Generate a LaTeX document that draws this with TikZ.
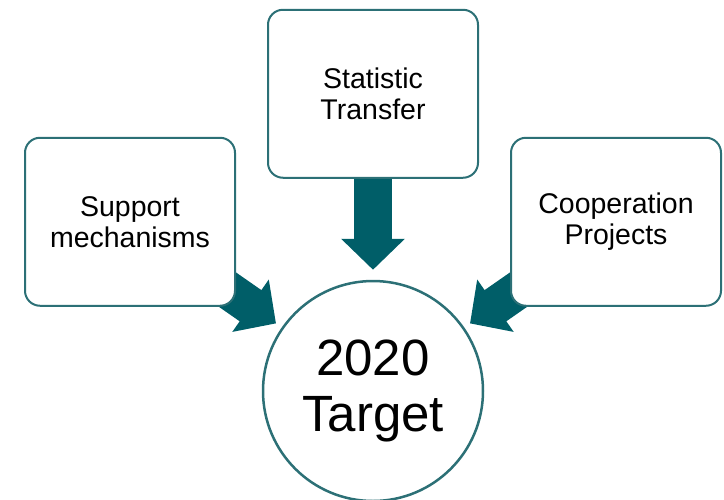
\documentclass[tikz,border=0pt]{standalone}
\usepackage{fontspec}
\setmainfont{Liberation Sans}
\usetikzlibrary{arrows.meta,positioning,backgrounds}

\definecolor{tealdark}{RGB}{0,94,104}
\definecolor{tealline}{RGB}{44,112,118}

\begin{document}
\begin{tikzpicture}[
    box/.style={
        draw=tealline,
        fill=white,
        rounded corners=15pt,
        minimum width=210pt,
        minimum height=168pt,
        align=center,
        line width=2pt,
        font=\fontsize{28.5}{31}\selectfont
    },
    goal/.style={
        circle,
        draw=tealline,
        fill=white,
        minimum size=220pt,
        align=center,
        line width=2.5pt,
        font=\fontsize{51}{56}\selectfont
    },
    blockarrow/.style={
        -{Triangle[width=62pt,length=31pt]},
        draw=tealdark,
        fill=tealdark,
        line width=38pt
    }
]

\useasboundingbox (0pt,0pt) rectangle (724pt,-499pt);

\node[goal] (goal) at (373pt,-391pt) {
    2020\\
    Target
};

\node[box, above=101pt of goal] (stat) {
    Statistic\\
    Transfer
};

\node[box, left=31pt of stat, yshift=-128pt] (support) {
    Support\\
    mechanisms
};

\node[box, right=31pt of stat, yshift=-128pt] (coop) {
    Cooperation\\
    Projects
};

% the block arrows go under the boxes
\begin{scope}[on background layer]
\draw[blockarrow, shorten >=10pt] (stat) -- (goal);
\draw[blockarrow, shorten >=7pt] (support.center) -- (goal);
\draw[blockarrow, shorten >=7pt] (coop.center) -- (goal);
\end{scope}

\end{tikzpicture}
\end{document}
